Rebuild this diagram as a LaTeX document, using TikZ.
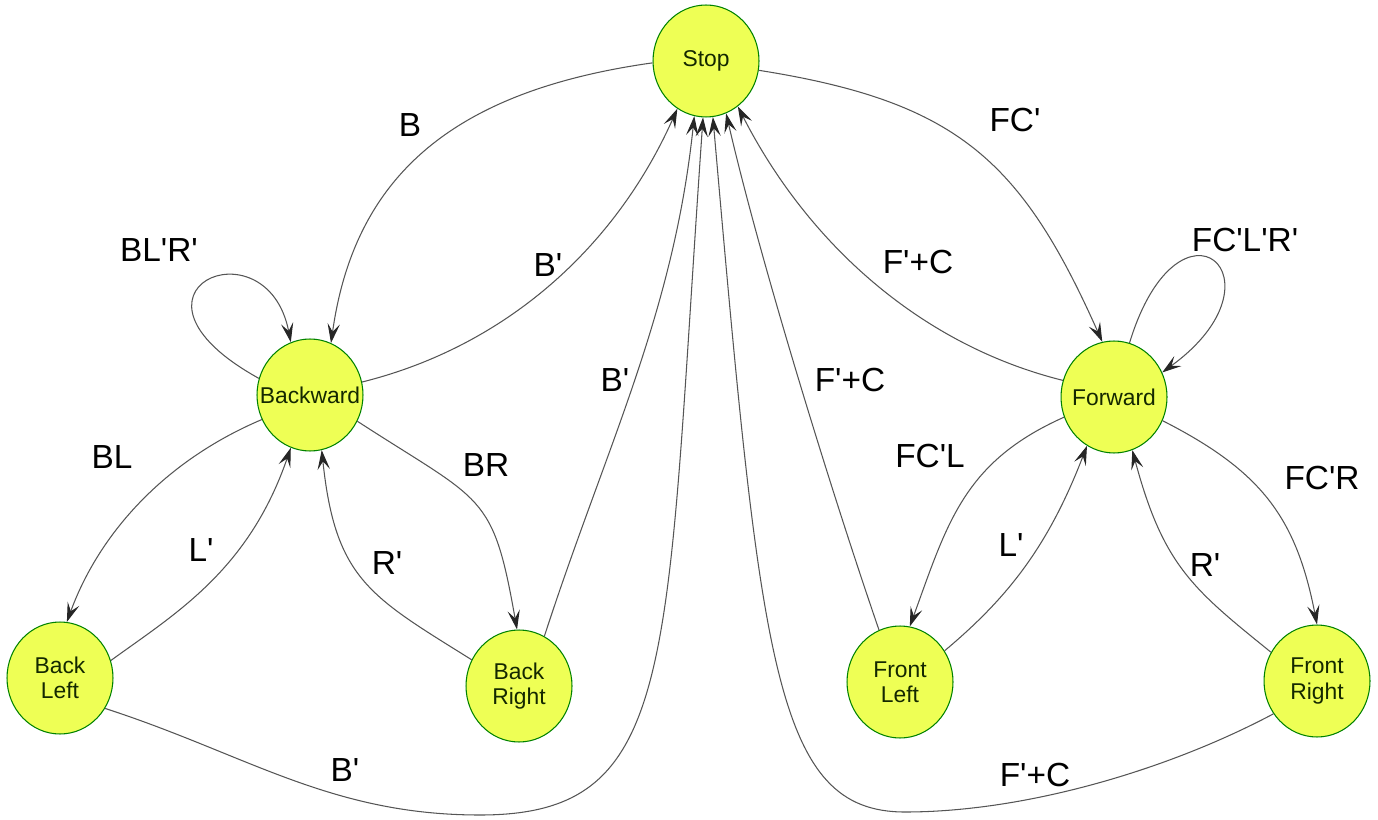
\documentclass[tikz,border=0pt]{standalone}
\usepackage{fontspec}
\setmainfont{Liberation Sans}
\usepackage{tikz}
\usetikzlibrary{shapes.geometric}
\usetikzlibrary{arrows.meta}
\usetikzlibrary{positioning}
\definecolor{statefill}{RGB}{238,255,85}
\definecolor{stateline}{RGB}{0,130,0}
\definecolor{statetext}{RGB}{20,40,0}
\definecolor{edgegray}{RGB}{85,85,85}
\newcommand{\apos}{\textquotesingle}

\begin{document}
\begin{tikzpicture}[x=0.02cm,y=0.02cm]
\tikzstyle{state node}=[ellipse,draw=stateline,fill=statefill,line width=0.6pt,minimum width=2.12cm,minimum height=2.24cm,inner xsep=-8pt,inner ysep=0pt,align=center,text=statetext,font=\fontsize{13}{14.5}\selectfont]
\tikzstyle{lbl node}=[inner sep=0pt,font=\fontsize{19}{22}\selectfont]
\tikzset{
  trans/.style = {edgegray,line width=0.6pt,-{Stealth[length=11pt,width=7pt,inset=4.5pt,color=black!85]}}
}
\useasboundingbox (0,0) rectangle (1378,-820);

    \node[state node] (stop) at (706,-61)  {Stop};
    \node[state node] (bw)   at (310,-395) {Backward};
    \node[state node] (fw)   at (1114,-397) {Forward};
    \node[state node] (bl)   at (60,-678)  {Back\\Left};
    \node[state node] (br)   at (519,-686) {Back\\Right};
    \node[state node] (fl)   at (900,-682) {Front\\Left};
    \node[state node] (fr)   at (1317,-681) {Front\\Right};
    \coordinate (mb) at (480,-815);
    \coordinate (mf) at (905,-812);
    %%%%%%%%%%%%%%%%%%%%%%%%%%%%%%%%%%
    \node[lbl node] (lb)    at (410,-125)  {B};
    \node[lbl node] (lblr)  at (159,-250)  {BL\apos R\apos};
    \node[lbl node] (lbp)   at (548,-265)  {B\apos};
    \node[lbl node] (lbl)   at (112,-457)  {BL};
    \node[lbl node] (llp)   at (201,-550)  {L\apos};
    \node[lbl node] (lbr)   at (486,-465)  {BR};
    \node[lbl node] (lrp)   at (387,-563)  {R\apos};
    \node[lbl node] (lbp2)  at (615,-380)  {B\apos};
    \node[lbl node] (lbp3)  at (345,-770)  {B\apos};
    \node[lbl node] (lfc)   at (1015,-120) {FC\apos};
    \node[lbl node] (lfclr) at (1245,-240) {FC\apos L\apos R\apos};
    \node[lbl node] (lfpc)  at (918,-262)  {F\apos+C};
    \node[lbl node] (lfpc2) at (850,-380)  {F\apos+C};
    \node[lbl node] (lfcl)  at (930,-456)  {FC\apos L};
    \node[lbl node] (llp2)  at (1011,-545) {L\apos};
    \node[lbl node] (lfcr)  at (1322,-478) {FC\apos R};
    \node[lbl node] (lrp2)  at (1205,-565) {R\apos};
    \node[lbl node] (lfpc3) at (1035,-775) {F\apos+C};

    \path[trans]
        (stop.182) edge[out=188,in=82,out distance=4cm,in distance=3.4cm] (bw.68)
        (bw.14) edge[out=14,in=246,out distance=3cm,in distance=3cm] (stop.239)
        (bw.162) edge[out=151,in=101,out distance=3.6cm,in distance=2.5cm] (bw.110)
        (bw.207) edge[out=203,in=70,out distance=2.2cm,in distance=1.8cm] (bl.83)
        (bl.19) edge[out=36,in=251,out distance=1.6cm,in distance=2.6cm] (bw.250)
        (bw.331) edge[out=327,in=100,out distance=3cm,in distance=2.8cm] (br.92)
        (br.151) edge[out=148,in=276,out distance=2.4cm,in distance=2.6cm] (bw.282)
        (br.63) edge[out=72,in=264,out distance=4cm,in distance=4cm] (stop.258)
        %%%%%%%%%%%%%%%%%%%
        (stop.350) edge[out=351,in=114,out distance=4cm,in distance=4cm] (fw.102)
        (fw.162) edge[out=166,in=297,out distance=3cm,in distance=3cm] (stop.305)
        (fw.74) edge[out=73,in=36,out distance=3.4cm,in distance=3.2cm] (fw.27)
        (fw.202) edge[out=204,in=70,out distance=2.2cm,in distance=2.2cm] (fl.80)
        (fl.35) edge[out=40,in=249,out distance=1.6cm,in distance=2.2cm] (fw.241)
        (fw.334) edge[out=333,in=101,out distance=2.2cm,in distance=2.2cm] (fr.90)
        (fr.148) edge[out=141,in=285,out distance=2cm,in distance=2.4cm] (fw.289)
        (fl.112) edge[out=109,in=283,out distance=3cm,in distance=3cm] (stop.291)
;
    % long ones round the bottom
    \draw[trans] (bl.326) to[out=342,in=180,out distance=3cm,in distance=3cm] (mb)
        to[out=0,in=266,out distance=4cm,in distance=11cm] (stop.267);
    \draw[trans] (fr.217) to[out=208,in=0,out distance=2.4cm,in distance=2.4cm] (mf)
        to[out=180,in=275,out distance=2.6cm,in distance=11cm] (stop.277);
\end{tikzpicture}
\end{document}
